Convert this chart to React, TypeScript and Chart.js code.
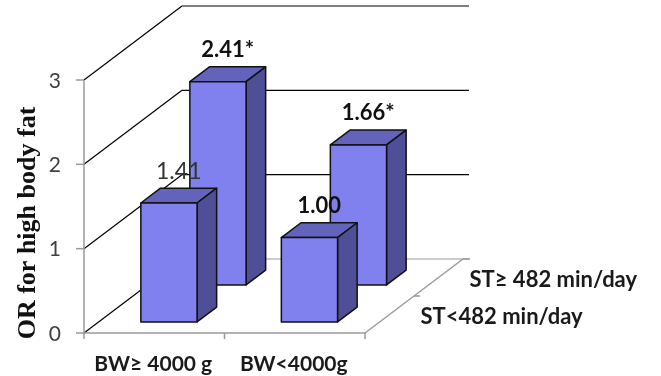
import React, { useEffect, useRef } from 'react';
import { Chart, registerables } from 'chart.js';

Chart.register(...registerables);

// Birth-weight groups along the front axis
const categories = ['BW≥ 4000 g', 'BW<4000g'];
// Screen-time rows along the depth axis (front row first)
const seriesNames = ['ST<482 min/day', 'ST≥ 482 min/day'];
// Odds ratios per row
const stLow = [1.41, 1.0];
const stHigh = [2.41, 1.66];
const stLowLabels = ['1.41', '1.00'];
const stHighLabels = ['2.41*', '1.66*'];
const stLowLabelBold = [false, true];
const stHighLabelBold = [true, true];
const yTickValues = [0, 1, 2, 3];

// Oblique projection of the depth axis (pixels from front plane to back wall)
const DEPTH_X = 98;
const DEPTH_Y = -74;
const ROW_CENTERS = [0.25, 0.75];
const BAR_DEPTH = 0.2;
const BAR_WIDTH_FRAC = 0.4;

const FACE_FRONT = '#8080ee';
const FACE_TOP = '#6363bb';
const FACE_SIDE = '#4f4f97';
const SANS = 'Lato, "Open Sans", "DejaVu Sans", sans-serif';

function poly(ctx: CanvasRenderingContext2D, pts: number[][], fill: string) {
  ctx.beginPath();
  ctx.moveTo(pts[0][0], pts[0][1]);
  for (let i = 1; i < pts.length; i++) ctx.lineTo(pts[i][0], pts[i][1]);
  ctx.closePath();
  ctx.fillStyle = fill;
  ctx.fill();
  ctx.stroke();
}

function line(ctx: CanvasRenderingContext2D, x0: number, y0: number, x1: number, y1: number) {
  ctx.beginPath();
  ctx.moveTo(x0, y0);
  ctx.lineTo(x1, y1);
  ctx.stroke();
}

const box3d = {
  id: 'box3d',
  beforeDatasetsDraw(chart: any) {
    const ctx: CanvasRenderingContext2D = chart.ctx;
    const xs = chart.scales.x;
    const ys = chart.scales.y;
    const left = chart.chartArea.left;
    const right = chart.chartArea.right;
    const base = ys.getPixelForValue(0);
    ctx.save();

    // back wall gridlines with their diagonals to the value axis
    ys.ticks.forEach((t: any) => {
      const y = ys.getPixelForValue(t.value);
      ctx.lineWidth = 1.2;
      ctx.strokeStyle = '#000';
      line(ctx, left, y, left + DEPTH_X, y + DEPTH_Y);
      ctx.strokeStyle = t.value === 0 ? '#9a9a9a' : '#000';
      line(ctx, left + DEPTH_X, y + DEPTH_Y, right + DEPTH_X + 6, y + DEPTH_Y);
    });

    // floor edges and axes
    ctx.strokeStyle = '#9a9a9a';
    ctx.lineWidth = 1.5;
    line(ctx, left, ys.getPixelForValue(3), left, base);
    line(ctx, left, base, right, base);
    line(ctx, right, base, right + DEPTH_X, base + DEPTH_Y);
    ys.ticks.forEach((t: any) => {
      const y = ys.getPixelForValue(t.value);
      line(ctx, left - 8, y, left, y);
    });
    // category boundaries on the front edge
    const step = xs.getPixelForValue(1) - xs.getPixelForValue(0);
    for (let i = 0; i <= categories.length; i++) {
      const x = xs.getPixelForValue(0) - step / 2 + i * step;
      line(ctx, x, base, x, base + 6);
    }
    // row boundary on the depth edge
    for (let r = 1; r < seriesNames.length; r++) {
      const d = r / seriesNames.length;
      const x = right + d * DEPTH_X;
      const y = base + d * DEPTH_Y;
      line(ctx, x, y, x + 6, y);
    }
    line(ctx, right + DEPTH_X, base + DEPTH_Y, right + DEPTH_X + 7, base + DEPTH_Y);
    ctx.restore();
  },
  afterDatasetsDraw(chart: any) {
    const ctx: CanvasRenderingContext2D = chart.ctx;
    const xs = chart.scales.x;
    const ys = chart.scales.y;
    const right = chart.chartArea.right;
    const base = ys.getPixelForValue(0);
    const step = xs.getPixelForValue(1) - xs.getPixelForValue(0);
    const w = step * BAR_WIDTH_FRAC;
    const rows = [
      { values: stLow, labels: stLowLabels, bold: stLowLabelBold },
      { values: stHigh, labels: stHighLabels, bold: stHighLabelBold },
    ];
    const labelQueue: any[] = [];

    ctx.save();
    ctx.strokeStyle = '#111';
    ctx.lineWidth = 1.5;
    ctx.lineJoin = 'round';
    // paint the back row first so the front row overlaps it
    for (let r = rows.length - 1; r >= 0; r--) {
      const d0 = ROW_CENTERS[r] - BAR_DEPTH / 2;
      const bx = BAR_DEPTH * DEPTH_X;
      const by = BAR_DEPTH * DEPTH_Y;
      rows[r].values.forEach((v, i) => {
        const xc = xs.getPixelForValue(i);
        const x0 = xc - w / 2 + d0 * DEPTH_X;
        const x1 = xc + w / 2 + d0 * DEPTH_X;
        const yt = ys.getPixelForValue(v) + d0 * DEPTH_Y;
        const yb = base + d0 * DEPTH_Y;
        poly(ctx, [[x0, yt], [x1, yt], [x1 + bx, yt + by], [x0 + bx, yt + by]], FACE_TOP);
        poly(ctx, [[x1, yt], [x1 + bx, yt + by], [x1 + bx, yb + by], [x1, yb]], FACE_SIDE);
        poly(ctx, [[x0, yt], [x1, yt], [x1, yb], [x0, yb]], FACE_FRONT);
        labelQueue.push({
          x: (x0 + x1) / 2 + bx / 2,
          y: yt + by - 17,
          text: rows[r].labels[i],
          bold: rows[r].bold[i],
        });
      });
    }

    // value labels
    ctx.textAlign = 'center';
    ctx.textBaseline = 'middle';
    labelQueue.forEach((l) => {
      ctx.font = (l.bold ? 'bold 22px ' : '23px ') + SANS;
      ctx.fillStyle = l.bold ? '#111' : '#333';
      ctx.fillText(l.text, l.x, l.y);
    });

    // value-axis tick labels
    ctx.font = '21px ' + SANS;
    ctx.fillStyle = '#404040';
    ctx.textAlign = 'right';
    ys.ticks.forEach((t: any) => {
      ctx.fillText(String(t.value), 61, ys.getPixelForValue(t.value) + 1);
    });

    // category labels
    ctx.font = 'bold 21px ' + SANS;
    ctx.fillStyle = '#1a1a1a';
    ctx.textAlign = 'center';
    categories.forEach((c, i) => {
      ctx.fillText(c, xs.getPixelForValue(i) - 1, base + 31);
    });

    // row labels along the depth edge
    ctx.font = 'bold 22px ' + SANS;
    ctx.textAlign = 'left';
    seriesNames.forEach((s, r) => {
      const d = ROW_CENTERS[r];
      ctx.fillText(s, right + d * DEPTH_X + 31, base + d * DEPTH_Y + 2);
    });

    // value-axis title
    ctx.save();
    ctx.translate(28, 223);
    ctx.rotate(-Math.PI / 2);
    ctx.textAlign = 'center';
    ctx.font = 'bold 26px "Liberation Serif", "DejaVu Serif", serif';
    ctx.fillStyle = '#111';
    ctx.fillText('OR for high body fat', 0, 0);
    ctx.restore();

    ctx.restore();
  },
};

export default function App() {
  const ref = useRef<HTMLCanvasElement | null>(null);

  useEffect(() => {
    document.body.style.margin = '0';
    const canvas = ref.current;
    if (!canvas) return;
    const chart = new Chart(canvas, {
      type: 'bar',
      data: {
        labels: categories,
        datasets: [
          { label: seriesNames[0], data: stLow, backgroundColor: 'rgba(0,0,0,0)', borderWidth: 0 },
          { label: seriesNames[1], data: stHigh, backgroundColor: 'rgba(0,0,0,0)', borderWidth: 0 },
        ],
      },
      options: {
        responsive: false,
        animation: false,
        devicePixelRatio: 1,
        layout: { padding: { left: 84, right: 296, top: 80, bottom: 43 } },
        plugins: { legend: { display: false }, tooltip: { enabled: false } },
        scales: {
          x: { display: false, offset: true },
          y: {
            display: false,
            min: 0,
            max: 3,
            afterBuildTicks: (s: any) => {
              s.ticks = yTickValues.map((v) => ({ value: v }));
            },
          },
        },
      },
      plugins: [box3d],
    });
    return () => chart.destroy();
  }, []);

  return <canvas ref={ref} width={661} height={376} style={{ display: 'block' }} />;
}
